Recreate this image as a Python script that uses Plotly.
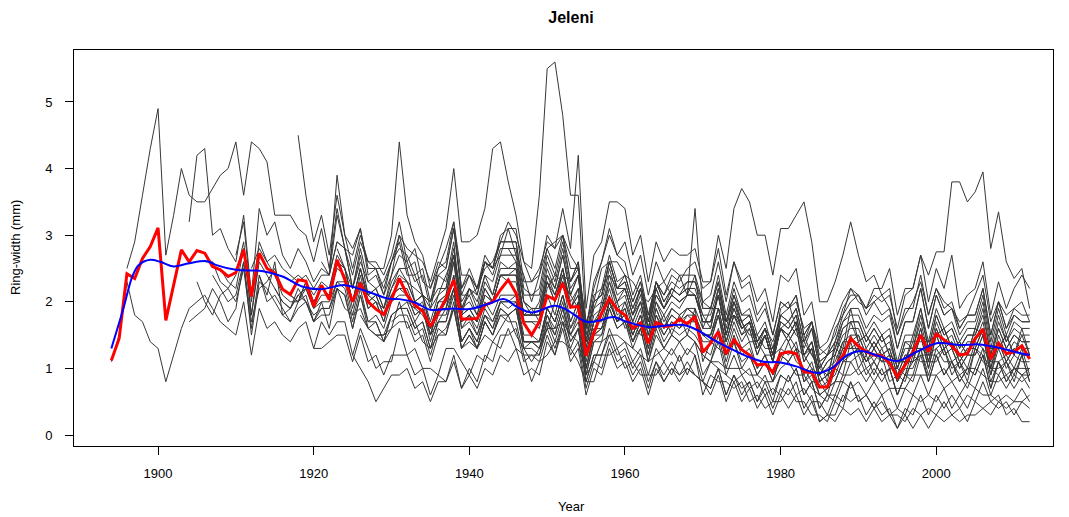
import plotly.graph_objects as go

# ---------------- data ----------------
last_year = 2012

# mean chronology (red), 1894-2012
mean_values = [
    1.12, 1.45, 2.42, 2.35, 2.65, 2.83,
    3.11, 1.72, 2.25, 2.78, 2.60, 2.77, 2.73, 2.53, 2.48, 2.38,
    2.44, 2.78, 2.08, 2.73, 2.50, 2.43, 2.19, 2.11, 2.33, 2.31,
    1.93, 2.25, 2.03, 2.63, 2.33, 2.00, 2.28, 2.00, 1.89, 1.81,
    2.03, 2.35, 2.10, 1.95, 1.86, 1.63, 1.83, 2.05, 2.33, 1.74,
    1.74, 1.75, 1.95, 2.00, 2.18, 2.33, 2.13, 1.68, 1.50, 1.70,
    2.09, 2.03, 2.28, 1.92, 1.93, 1.19, 1.53, 1.83, 2.05, 1.88,
    1.80, 1.60, 1.68, 1.38, 1.69, 1.63, 1.64, 1.74, 1.67, 1.78,
    1.24, 1.38, 1.55, 1.22, 1.43, 1.28, 1.20, 1.05, 1.07, 0.94,
    1.22, 1.25, 1.22, 0.95, 0.94, 0.72, 0.72, 1.03, 1.19, 1.45,
    1.33, 1.25, 1.20, 1.19, 1.08, 0.87, 1.05, 1.25, 1.50, 1.25,
    1.52, 1.43, 1.34, 1.20, 1.22, 1.45, 1.59, 1.14, 1.38, 1.22,
    1.25, 1.34, 1.14,
]

# smoothing spline (blue), read at points along the curve
spline_years = [1894, 1895.5, 1896.7, 1897.5, 1899, 1900.3, 1902, 1904, 1906.3, 1907.5,
                1910, 1913.5, 1916, 1918.5, 1921, 1924, 1927, 1929.5, 1931, 1933,
                1935, 1938, 1940, 1942.5, 1944.5, 1946, 1948, 1951, 1952.5, 1955,
                1956.4, 1958.5, 1960, 1963, 1965, 1967.5, 1969.2, 1971.4, 1973.5, 1975.7,
                1977.8, 1980, 1982, 1984.8, 1986.5, 1988.6, 1990.4, 1992.5, 1995, 1997.5,
                2000.2, 2003, 2005.5, 2008, 2010.7, 2012]
spline_values = [1.30, 1.88, 2.38, 2.55, 2.63, 2.60, 2.53, 2.58, 2.61, 2.55,
                 2.48, 2.46, 2.38, 2.23, 2.19, 2.25, 2.15, 2.05, 2.04, 1.99,
                 1.88, 1.90, 1.89, 1.97, 2.04, 1.93, 1.84, 1.94, 1.88, 1.70,
                 1.71, 1.77, 1.71, 1.62, 1.64, 1.65, 1.58, 1.43, 1.30, 1.18,
                 1.10, 1.09, 1.03, 0.93, 1.00, 1.20, 1.26, 1.19, 1.11, 1.25,
                 1.38, 1.35, 1.36, 1.31, 1.23, 1.20]

# individual tree series (black), each ending in 2012
tree_a = [2.5, 2.9, 3.6, 4.3,
          4.9, 2.7, 3.3, 4.0, 3.6, 3.5, 3.5, 3.7, 3.9, 4.0,
          4.4, 3.6, 4.4, 4.3, 4.1, 3.3, 3.3, 3.3, 3.1, 3.0,
          2.6, 3.1, 2.5, 3.4, 2.8, 2.7, 3.1, 2.4, 2.5, 2.1,
          2.4, 3.0, 2.5, 2.6, 2.1, 2.0, 2.4, 2.3, 2.9, 1.8,
          2.2, 1.9, 2.4, 2.1, 2.6, 2.5, 2.6, 1.8, 1.9, 1.7,
          2.2, 2.4, 2.3, 2.1, 1.9, 1.4, 1.5, 2.0, 1.9, 2.0,
          1.6, 1.7, 1.5, 1.5, 1.6, 1.8, 1.5, 1.8, 1.5, 1.9,
          1.1, 1.4, 1.3, 1.2, 1.4, 1.0, 1.2, 0.9, 1.1, 0.8,
          1.2, 1.1, 1.3, 0.8, 0.9, 0.6, 0.7, 0.8, 1.1, 1.2,
          1.3, 1.0, 1.1, 0.9, 1.0, 0.6, 0.9, 1.1, 1.2, 1.2,
          1.2, 1.3, 1.0, 1.1, 0.9, 1.3, 1.2, 1.0, 1.0, 1.1,
          0.9, 1.2, 0.8]
tree_b = [1.1, 1.5, 2.3, 1.8, 1.7, 1.4,
          1.3, 0.8, 1.2, 1.6, 1.9, 2.0, 2.1, 1.9, 1.7, 1.6,
          1.5, 2.0, 1.2, 1.9, 1.6, 1.7, 1.5, 1.4, 1.6, 1.7,
          1.3, 1.7, 1.5, 1.7, 1.7, 1.2, 1.6, 1.3, 1.0, 1.1,
          1.1, 1.6, 1.2, 1.3, 1.0, 1.0, 0.9, 1.3, 1.3, 1.1,
          0.9, 1.2, 1.1, 1.4, 1.3, 1.6, 1.3, 1.2, 0.8, 1.1,
          1.2, 1.4, 1.4, 1.3, 1.1, 0.8, 0.8, 1.2, 1.2, 1.3,
          1.0, 1.1, 0.9, 0.9, 0.9, 1.1, 0.9, 1.2, 0.9, 1.2,
          0.6, 0.9, 0.8, 0.8, 0.7, 0.8, 0.5, 0.6, 0.4, 0.5,
          0.5, 0.7, 0.5, 0.5, 0.3, 0.3, 0.2, 0.5, 0.4, 0.8,
          0.5, 0.6, 0.4, 0.6, 0.3, 0.4, 0.3, 0.6, 0.5, 0.6,
          0.5, 0.7, 0.4, 0.6, 0.4, 0.7, 0.6, 0.6, 0.5, 0.6,
          0.5, 0.7, 0.5]
tree_c = [3.2, 4.2, 4.3, 3.0, 3.1, 2.8,
          2.6, 3.3, 2.1, 3.4, 3.0, 3.2, 2.7, 2.5, 2.8, 2.6,
          2.3, 2.5, 2.4, 2.9, 2.8, 2.2, 2.7, 2.1, 2.2, 1.9,
          2.3, 2.5, 2.5, 2.0, 2.1, 1.6, 2.0, 2.0, 2.6, 1.7,
          1.8, 1.5, 1.9, 1.7, 2.0, 2.0, 2.0, 1.4, 1.4, 1.3,
          1.7, 1.4, 1.8, 1.4, 1.6, 0.8, 1.2, 1.2, 1.6, 1.3,
          1.4, 1.1, 1.3, 0.9, 1.3, 1.1, 1.3, 1.1, 1.3, 1.2,
          0.8, 1.1, 1.0, 0.9, 0.8, 0.9, 0.7, 0.8, 0.6, 0.7,
          0.6, 0.9, 0.6, 0.7, 0.5, 0.5, 0.3, 0.6, 0.5, 0.8,
          0.5, 0.6, 0.4, 0.5, 0.3, 0.3, 0.2, 0.4, 0.3, 0.4,
          0.3, 0.5, 0.3, 0.4, 0.2, 0.5, 0.4, 0.5, 0.4, 0.5,
          0.3, 0.5, 0.4]
tree_d = [1.7, 1.8, 1.9, 2.2, 2.0, 1.7,
          1.9, 2.6, 1.5, 2.3, 2.2, 2.0, 1.8, 1.7, 2.0, 2.1,
          1.7, 1.8, 1.8, 2.2, 2.1, 1.6, 2.1, 1.7, 1.7, 1.4,
          1.8, 1.9, 1.9, 1.6, 1.7, 1.3, 1.7, 1.7, 2.2, 1.4,
          1.6, 1.4, 1.8, 1.7, 2.0, 2.0, 2.1, 1.4, 1.4, 1.4,
          1.9, 1.7, 2.1, 1.6, 1.9, 1.0, 1.5, 1.6, 2.0, 1.7,
          1.8, 1.5, 1.8, 1.3, 1.8, 1.6, 1.8, 1.7, 1.9, 1.8,
          1.5, 1.5, 1.9, 1.4, 1.8, 1.5, 1.6, 1.2, 1.5, 1.1,
          1.6, 1.5, 1.7, 1.2, 1.4, 0.9, 1.1, 1.2, 1.6, 1.7,
          1.7, 1.4, 1.6, 1.4, 1.5, 1.0, 1.4, 1.4, 1.9, 1.3,
          1.8, 1.5, 1.6, 1.3, 1.5, 1.5, 1.9, 1.2, 1.7, 1.4,
          1.6, 1.5, 1.5]
tree_e = [2.3, 2.0, 1.8, 2.1, 2.2,
          2.0, 2.5, 1.6, 2.4, 2.0, 2.1, 1.9, 1.7, 1.9, 2.0,
          1.7, 1.9, 1.9, 2.3, 2.3, 1.8, 2.3, 1.9, 2.0, 1.7,
          2.1, 2.3, 2.3, 2.0, 2.1, 1.7, 2.1, 2.2, 2.8, 2.0,
          2.2, 2.0, 2.4, 2.3, 2.7, 2.7, 2.7, 2.0, 1.9, 1.9,
          2.5, 2.2, 2.7, 2.1, 2.4, 1.3, 1.9, 2.0, 2.5, 2.1,
          2.2, 1.8, 2.1, 1.6, 2.1, 1.9, 2.1, 2.0, 2.1, 2.1,
          1.7, 1.7, 2.1, 1.5, 1.9, 1.6, 1.7, 1.3, 1.5, 1.1,
          1.6, 1.4, 1.6, 1.1, 1.3, 0.8, 0.9, 1.0, 1.3, 1.3,
          1.4, 1.1, 1.3, 1.1, 1.2, 0.8, 1.1, 1.1, 1.5, 1.0,
          1.5, 1.2, 1.3, 1.0, 1.2, 1.2, 1.5, 0.9, 1.3, 1.0,
          1.2, 1.1, 1.1]
tree_f = [2.6, 2.6, 2.3, 2.2,
          2.4, 2.9, 1.8, 2.7, 2.5, 2.4, 2.1, 2.0, 2.0, 2.3,
          2.0, 2.2, 2.1, 2.5, 2.4, 1.9, 2.4, 1.9, 2.0, 1.7,
          2.1, 2.2, 2.1, 1.8, 1.9, 1.4, 1.8, 1.8, 2.2, 1.4,
          1.6, 1.3, 1.7, 1.5, 1.8, 1.7, 1.7, 1.2, 1.2, 1.1,
          1.5, 1.2, 1.6, 1.1, 1.3, 0.6, 1.0, 0.9, 1.3, 1.0,
          1.1, 0.8, 1.0, 0.6, 1.0, 0.8, 1.0, 0.8, 1.0, 0.9,
          0.8, 0.7, 1.0, 0.6, 0.9, 0.7, 0.8, 0.5, 0.8, 0.5,
          0.9, 0.8, 1.0, 0.6, 0.8, 0.4, 0.6, 0.6, 0.9, 0.9,
          1.0, 0.8, 1.0, 0.8, 1.0, 0.6, 0.9, 0.8, 1.2, 0.8,
          1.2, 0.9, 1.1, 0.8, 1.0, 0.9, 1.2, 0.7, 1.1, 0.8,
          1.0, 0.9, 1.0]
tree_g = [2.4, 2.2, 2.0,
          2.1, 2.6, 1.7, 2.2, 2.3, 2.5, 2.2, 2.1, 2.0, 2.2,
          1.9, 2.1, 2.1, 2.6, 2.5, 2.0, 2.5, 2.1, 2.2, 1.9,
          2.4, 2.7, 2.6, 2.3, 2.4, 1.9, 2.4, 2.5, 3.1, 2.2,
          2.4, 2.2, 2.7, 2.5, 2.9, 2.9, 2.9, 2.1, 2.1, 2.1,
          2.7, 2.4, 2.9, 2.3, 2.5, 1.4, 2.0, 2.1, 2.6, 2.2,
          2.3, 1.9, 2.2, 1.7, 2.2, 1.9, 2.1, 2.0, 2.1, 2.1,
          1.8, 1.6, 2.2, 1.7, 2.0, 1.7, 1.4, 1.4, 1.2, 1.2,
          1.3, 1.5, 1.3, 1.2, 1.0, 0.9, 0.7, 1.2, 1.1, 1.5,
          1.2, 1.3, 1.1, 1.3, 1.0, 1.0, 0.9, 1.3, 1.3, 1.2,
          1.3, 1.4, 1.1, 1.2, 1.0, 1.4, 1.3, 1.1, 1.1, 1.2,
          1.0, 1.3, 0.9]
tree_h = [2.5, 2.3,
          2.2, 2.8, 1.8, 2.6, 2.4, 2.2, 2.0, 1.9, 2.1, 2.0,
          1.8, 1.9, 1.9, 2.2, 2.1, 1.6, 2.1, 1.6, 1.7, 1.4,
          1.8, 1.9, 1.9, 1.6, 1.7, 1.3, 1.7, 1.7, 2.1, 1.4,
          1.6, 1.4, 1.8, 1.6, 2.0, 1.9, 2.0, 1.4, 1.4, 1.4,
          1.9, 1.7, 2.1, 1.6, 1.8, 1.0, 1.5, 1.6, 2.0, 1.7,
          1.9, 1.5, 1.8, 1.4, 1.9, 1.6, 1.9, 1.8, 1.9, 1.9,
          1.6, 1.6, 2.1, 1.5, 2.0, 1.7, 1.8, 1.4, 1.6, 1.2,
          1.9, 2.0, 1.6, 1.5, 1.2, 1.1, 0.8, 1.4, 1.3, 1.9,
          1.4, 1.5, 1.3, 1.5, 1.2, 1.1, 1.1, 1.5, 1.5, 1.4,
          1.5, 1.6, 1.3, 1.4, 1.2, 1.6, 1.5, 1.3, 1.3, 1.5,
          1.2, 1.6, 1.2]
tree_i = [2.7, 3.2, 2.0, 2.9, 2.6, 2.4, 2.2, 2.1, 2.0, 2.3,
          2.0, 2.2, 2.2, 2.7, 2.5, 2.0, 2.5, 2.0, 2.1, 1.8,
          2.2, 2.4, 2.3, 2.0, 2.1, 1.6, 2.0, 2.1, 2.6, 1.8,
          1.9, 1.7, 2.2, 2.0, 2.4, 2.4, 2.4, 1.7, 1.7, 1.7,
          2.3, 2.0, 2.5, 1.9, 2.2, 1.2, 1.7, 1.9, 2.3, 1.9,
          2.0, 1.6, 1.9, 1.4, 1.9, 1.6, 1.8, 1.7, 1.8, 1.8,
          1.5, 1.5, 1.8, 1.4, 1.8, 1.6, 1.7, 1.4, 1.6, 1.4,
          1.8, 1.9, 2.0, 1.6, 1.7, 1.3, 1.2, 1.6, 1.8, 2.2,
          2.0, 1.9, 2.0, 2.1, 1.9, 1.5, 1.8, 2.0, 2.3, 1.8,
          2.2, 2.0, 1.9, 1.7, 1.8, 2.1, 2.4, 1.7, 2.0, 1.8,
          1.9, 2.0, 1.7]
tree_j = [2.5, 2.8, 2.6, 2.7, 2.5, 2.4, 2.3, 2.4,
          2.2, 2.4, 2.4, 2.9, 2.8, 2.2, 2.8, 2.3, 2.4, 2.1,
          2.6, 2.8, 2.7, 2.4, 2.5, 2.0, 2.5, 2.6, 3.2, 2.2,
          2.5, 2.2, 2.6, 2.5, 2.9, 2.9, 2.9, 2.2, 2.1, 2.2,
          2.8, 2.5, 3.0, 2.3, 2.6, 1.5, 2.1, 2.2, 2.7, 2.3,
          2.4, 2.0, 2.3, 1.7, 2.3, 2.0, 2.2, 2.1, 2.2, 2.2,
          1.8, 1.8, 2.2, 1.6, 2.1, 1.7, 1.8, 1.4, 1.6, 1.2,
          1.7, 1.6, 1.8, 1.2, 1.4, 0.9, 1.1, 1.2, 1.5, 1.6,
          1.6, 1.3, 1.5, 1.3, 1.4, 1.0, 1.3, 1.3, 1.7, 1.2,
          1.7, 1.4, 1.5, 1.2, 1.4, 1.4, 1.7, 1.1, 1.6, 1.3,
          1.5, 1.4, 1.4]
tree_k = [2.2, 2.0, 1.9, 2.1, 2.2,
          1.9, 2.0, 2.0, 2.3, 2.2, 1.7, 2.2, 1.7, 1.8, 1.6,
          2.0, 2.1, 2.1, 1.8, 1.9, 1.5, 1.9, 1.9, 2.4, 1.6,
          1.8, 1.7, 2.1, 2.0, 2.4, 2.4, 2.5, 1.8, 1.8, 1.8,
          2.4, 2.2, 2.7, 2.1, 2.4, 1.4, 2.0, 2.1, 2.6, 2.2,
          2.4, 2.0, 2.3, 1.8, 2.3, 2.1, 2.3, 2.2, 2.3, 2.3,
          1.9, 1.9, 2.4, 1.8, 2.3, 2.0, 2.1, 1.7, 1.9, 1.5,
          2.0, 1.9, 2.1, 1.5, 1.7, 1.1, 1.2, 1.4, 1.7, 1.8,
          1.8, 1.5, 1.7, 1.5, 1.6, 1.1, 1.5, 1.5, 1.9, 1.4,
          1.9, 1.6, 1.7, 1.4, 1.6, 1.6, 2.0, 1.3, 1.8, 1.4,
          1.7, 1.6, 1.6]
tree_l = [2.3, 2.4, 2.3,
          2.1, 2.3, 2.2, 2.6, 2.5, 2.0, 2.5, 2.0, 2.1, 1.8,
          2.1, 2.2, 2.2, 1.9, 2.0, 1.5, 1.9, 1.9, 2.4, 1.6,
          1.7, 1.5, 1.8, 1.6, 1.9, 1.8, 1.9, 1.3, 1.3, 1.2,
          1.6, 1.3, 1.7, 1.2, 1.4, 0.7, 1.1, 1.0, 1.4, 1.1,
          1.2, 0.9, 1.1, 0.7, 1.1, 0.8, 1.0, 0.9, 1.0, 0.9,
          0.8, 0.6, 0.9, 0.5, 0.8, 0.5, 0.7, 0.4, 0.6, 0.3,
          0.6, 0.4, 0.6, 0.3, 0.5, 0.2, 0.3, 0.2, 0.4, 0.3,
          0.4, 0.2, 0.4, 0.2, 0.3, 0.1, 0.3, 0.1, 0.3, 0.1,
          0.3, 0.2, 0.3, 0.2, 0.3, 0.3, 0.4, 0.3, 0.5, 0.4,
          0.5, 0.5, 0.6]
tree_m = [4.5, 3.6,
          2.9, 3.3, 2.7, 3.6, 3.0, 2.8, 3.1, 2.5, 2.5, 2.2,
          2.6, 2.9, 2.4, 2.4, 2.1, 2.0, 2.2, 2.2, 2.7, 1.9,
          2.1, 1.8, 2.2, 2.0, 2.4, 2.3, 2.3, 1.7, 1.7, 1.6,
          2.1, 1.8, 2.3, 1.7, 2.0, 1.1, 1.6, 1.6, 2.0, 1.7,
          1.8, 1.4, 1.7, 1.2, 1.7, 1.4, 1.6, 1.5, 1.6, 1.5,
          1.3, 1.2, 1.6, 1.1, 1.5, 1.2, 1.3, 1.0, 1.2, 0.9,
          1.3, 1.2, 1.4, 0.9, 1.1, 0.7, 0.8, 0.9, 1.2, 1.2,
          1.3, 1.1, 1.3, 1.1, 1.2, 0.8, 1.1, 1.1, 1.5, 1.0,
          1.5, 1.2, 1.3, 1.0, 1.2, 1.2, 1.5, 0.9, 1.4, 1.1,
          1.3, 1.2, 1.2]
tree_n = [1.3, 1.3, 1.4, 1.5, 1.5, 1.1, 1.5, 1.1, 1.2, 0.9,
          1.2, 1.2, 1.2, 0.9, 1.0, 0.6, 0.9, 0.8, 1.1, 0.7,
          0.9, 0.7, 1.0, 0.9, 1.2, 1.1, 1.3, 0.9, 1.0, 0.9,
          1.4, 1.2, 1.7, 1.3, 1.6, 0.9, 1.4, 1.5, 2.0, 1.7,
          2.0, 1.7, 2.0, 1.6, 2.1, 1.9, 2.2, 2.1, 2.3, 2.3,
          2.0, 2.1, 2.6, 2.0, 2.6, 2.3, 2.4, 2.0, 2.2, 1.7,
          2.4, 2.3, 2.5, 1.8, 2.0, 1.3, 1.4, 1.7, 2.0, 2.2,
          2.1, 1.8, 2.0, 1.8, 1.9, 1.3, 1.7, 1.7, 2.2, 1.6,
          2.1, 1.8, 1.9, 1.5, 1.7, 1.7, 2.1, 1.4, 1.9, 1.5,
          1.8, 1.7, 1.7]
tree_o = [2.6, 2.4, 3.9, 3.0, 2.5, 3.0, 2.6, 2.5, 2.5,
          3.0, 4.4, 3.3, 2.9, 2.7, 2.2, 2.5, 2.8, 3.2, 2.4,
          2.4, 2.1, 2.6, 2.4, 2.8, 2.8, 2.8, 2.0, 1.9, 1.9,
          2.4, 2.1, 2.5, 1.9, 2.1, 1.2, 1.7, 1.7, 2.1, 1.7,
          1.8, 1.4, 1.6, 1.1, 1.5, 1.3, 1.5, 1.4, 1.5, 1.4,
          1.2, 1.1, 1.4, 0.9, 1.2, 0.9, 1.0, 0.7, 0.9, 0.6,
          0.9, 0.8, 1.0, 0.6, 0.8, 0.4, 0.6, 0.5, 0.8, 0.7,
          0.8, 0.6, 0.8, 0.6, 0.7, 0.4, 0.7, 0.6, 0.9, 0.6,
          0.9, 0.7, 0.8, 0.6, 0.8, 0.7, 1.0, 0.6, 0.9, 0.7,
          0.9, 0.8, 0.9]
tree_p = [2.8, 2.5, 2.2, 2.6, 2.3, 2.2, 2.3,
          2.6, 3.0, 2.8, 2.7, 2.6, 2.3, 2.7, 3.1, 4.0, 2.9,
          2.9, 3.0, 3.4, 4.3, 4.4, 3.8, 3.3, 2.6, 2.3, 2.5,
          2.9, 2.8, 3.0, 2.5, 2.5, 1.6, 1.9, 2.2, 2.4, 2.2,
          2.2, 1.8, 2.0, 1.5, 2.0, 1.7, 1.9, 1.8, 1.9, 1.8,
          1.5, 1.4, 1.8, 1.2, 1.6, 1.3, 1.4, 1.0, 1.2, 0.9,
          1.1, 1.4, 1.1, 1.0, 0.8, 0.8, 0.6, 1.0, 0.9, 1.4,
          1.0, 1.2, 0.9, 1.2, 0.8, 0.9, 0.8, 1.2, 1.1, 1.1,
          1.1, 1.3, 0.9, 1.1, 0.8, 1.3, 1.1, 1.0, 0.9, 1.1,
          0.8, 1.2, 0.8]
tree_q = [2.0, 2.3, 2.1, 2.0, 1.9,
          2.2, 2.5, 2.3, 2.2, 2.1, 1.9, 2.1, 2.4, 2.7, 2.1,
          2.1, 2.2, 2.5, 2.6, 2.9, 3.2, 3.0, 2.6, 2.5, 3.6,
          5.5, 5.6, 4.8, 3.6, 3.6, 1.6, 2.2, 2.6, 3.0, 2.7,
          2.6, 2.1, 2.4, 1.8, 2.3, 2.0, 2.2, 2.1, 2.2, 2.1,
          1.7, 1.7, 2.1, 1.5, 1.9, 1.6, 1.7, 1.3, 1.5, 1.1,
          1.6, 1.5, 1.7, 1.2, 1.4, 0.9, 1.0, 1.1, 1.4, 1.5,
          1.5, 1.2, 1.4, 1.2, 1.3, 0.9, 1.2, 1.2, 1.6, 1.1,
          1.6, 1.3, 1.4, 1.1, 1.3, 1.3, 1.6, 1.0, 1.5, 1.2,
          1.4, 1.3, 1.3]
tree_r = [1.8, 1.6, 1.5, 1.5,
          1.8, 1.9, 2.0, 1.7, 1.9, 1.5, 2.0, 2.1, 2.7, 1.9,
          2.2, 2.1, 2.6, 2.5, 3.0, 3.1, 3.1, 2.3, 2.3, 2.4,
          3.0, 2.8, 3.4, 2.8, 4.2, 1.9, 2.7, 2.9, 3.5, 3.5,
          3.4, 2.7, 3.0, 2.3, 2.9, 2.6, 2.8, 2.7, 2.7, 2.8,
          2.3, 2.3, 2.8, 2.1, 2.6, 2.2, 2.3, 1.8, 2.0, 1.5,
          2.0, 1.9, 2.1, 1.5, 1.7, 1.1, 1.2, 1.3, 1.6, 1.7,
          1.7, 1.4, 1.6, 1.4, 1.5, 1.0, 1.4, 1.3, 1.8, 1.3,
          1.8, 1.5, 1.6, 1.3, 1.5, 1.5, 1.8, 1.2, 1.6, 1.3,
          1.5, 1.4, 1.4]
tree_s = [1.5, 1.4,
          1.6, 1.7, 1.7, 1.4, 1.5, 1.1, 1.5, 1.5, 1.9, 1.3,
          1.5, 1.3, 1.7, 1.5, 1.9, 1.8, 1.9, 1.4, 1.4, 1.4,
          1.9, 1.7, 2.1, 1.7, 2.0, 1.2, 1.7, 1.8, 2.3, 2.0,
          2.2, 1.8, 2.2, 1.7, 2.3, 2.1, 2.4, 2.3, 2.5, 2.6,
          2.2, 2.3, 3.0, 2.5, 3.4, 3.7, 3.5, 3.0, 3.0, 2.4,
          3.1, 3.1, 3.3, 3.5, 2.9, 2.0, 2.0, 2.3, 2.7, 3.2,
          2.7, 2.3, 2.4, 2.1, 2.2, 1.5, 1.9, 1.9, 2.4, 1.8,
          2.2, 1.9, 2.0, 1.6, 1.8, 1.8, 2.2, 1.5, 2.0, 1.6,
          1.8, 1.7, 1.7]
tree_t = [1.7, 1.8, 1.8, 1.5, 1.6, 1.2, 1.6, 1.5, 2.0, 1.3,
          1.5, 1.3, 1.7, 1.5, 1.8, 1.8, 1.9, 1.3, 1.4, 1.3,
          1.8, 1.6, 2.0, 1.5, 1.8, 1.0, 1.5, 1.5, 1.9, 1.6,
          1.7, 1.4, 1.7, 1.2, 1.7, 1.5, 1.7, 1.6, 1.8, 1.7,
          1.5, 1.5, 1.9, 1.4, 1.8, 1.5, 1.7, 1.3, 1.6, 1.2,
          1.8, 1.7, 1.9, 1.4, 1.7, 1.2, 1.3, 1.5, 1.9, 2.1,
          2.1, 1.9, 2.1, 2.0, 2.1, 1.6, 2.1, 2.2, 2.7, 2.4,
          2.75, 2.75, 3.8, 3.8, 3.5, 3.65, 3.95, 2.8, 3.35, 2.6,
          2.35, 2.5, 1.9]
tree_u = [2.0, 1.9, 1.8, 1.6, 1.8, 2.0, 2.3, 1.8,
          1.9, 1.7, 2.1, 2.0, 2.4, 2.4, 2.4, 1.8, 1.8, 1.8,
          2.3, 2.1, 2.5, 2.0, 2.2, 1.3, 1.8, 1.9, 2.4, 2.0,
          2.1, 1.7, 2.0, 1.5, 2.0, 1.8, 2.0, 1.9, 2.1, 3.4,
          1.9, 1.9, 2.3, 1.7, 2.2, 1.8, 1.9, 1.5, 1.7, 1.3,
          1.8, 1.7, 1.9, 1.4, 1.6, 1.0, 1.2, 1.3, 1.7, 1.9,
          1.9, 1.6, 1.8, 1.7, 1.8, 1.3, 1.7, 1.7, 2.2, 1.6,
          2.1, 1.8, 1.9, 1.6, 1.8, 1.8, 2.2, 1.5, 2.0, 1.6,
          1.9, 1.8, 1.8]
tree_v = [1.5, 1.7, 1.9, 2.2, 1.7,
          1.8, 1.6, 2.0, 1.8, 2.1, 2.1, 2.1, 1.5, 1.5, 1.4,
          1.8, 1.5, 1.9, 1.4, 1.6, 0.8, 1.2, 1.2, 1.5, 1.2,
          1.3, 1.0, 1.2, 0.8, 1.1, 0.9, 1.1, 0.9, 1.1, 0.9,
          0.8, 0.7, 1.0, 0.6, 0.9, 0.6, 0.8, 0.5, 0.7, 0.4,
          0.7, 0.6, 0.8, 0.4, 0.6, 0.2, 0.3, 0.3, 0.6, 0.5,
          0.6, 0.3, 0.5, 0.3, 0.4, 0.1, 0.4, 0.3, 0.6, 0.3,
          0.6, 0.4, 0.6, 0.4, 0.6, 0.5, 0.8, 0.5, 0.6, 0.3,
          0.4, 0.2, 0.2]
tree_w = [1.9,
          2.0, 1.8, 2.3, 2.1, 2.5, 2.5, 2.5, 1.8, 1.8, 1.8,
          2.3, 2.0, 2.4, 1.9, 2.1, 1.2, 1.7, 1.8, 2.2, 1.8,
          1.9, 1.5, 1.8, 1.3, 1.8, 1.5, 1.7, 1.6, 1.7, 1.7,
          1.4, 1.4, 1.8, 1.3, 1.7, 1.4, 1.6, 1.2, 1.5, 1.1,
          1.7, 1.6, 1.8, 1.3, 1.6, 1.0, 1.2, 1.4, 1.8, 2.0,
          2.1, 1.9, 2.2, 2.2, 2.5, 1.8, 2.2, 2.2, 2.7, 2.0,
          2.5, 2.2, 2.7, 1.9, 2.1, 2.2, 2.6, 1.8, 2.3, 1.9,
          2.2, 2.4, 2.2]
tree_x = [2.8, 2.6, 2.0, 1.8, 2.0,
          2.6, 2.3, 2.8, 2.2, 2.4, 1.4, 2.0, 2.1, 2.6, 2.2,
          2.3, 1.9, 2.2, 1.6, 2.2, 1.9, 2.1, 2.0, 2.1, 2.1,
          1.7, 1.7, 2.1, 1.5, 2.0, 1.6, 1.7, 1.3, 1.5, 1.1,
          1.6, 1.4, 1.6, 1.1, 1.3, 0.8, 0.9, 1.0, 1.4, 1.4,
          1.5, 1.2, 1.4, 1.2, 1.3, 0.9, 1.2, 1.2, 1.6, 1.1,
          1.6, 1.3, 1.4, 1.1, 1.3, 1.3, 1.6, 1.0, 1.4, 1.1,
          1.3, 1.2, 1.2]
tree_y = [1.2, 1.0, 0.8, 0.5, 0.7,
          0.9, 0.9, 1.0, 0.7, 0.8, 0.5, 0.8, 0.8, 1.2, 0.7,
          1.0, 0.8, 1.2, 1.1, 1.5, 1.5, 1.6, 1.1, 1.2, 1.2,
          1.7, 1.5, 1.9, 1.5, 1.7, 0.9, 1.4, 1.4, 1.9, 1.6,
          1.7, 1.3, 1.6, 1.1, 1.6, 1.3, 1.5, 1.4, 1.5, 1.4,
          1.2, 1.1, 1.5, 1.0, 1.4, 1.1, 1.2, 0.9, 1.1, 0.8,
          1.2, 1.1, 1.3, 0.8, 1.0, 0.6, 0.7, 0.8, 1.1, 1.1,
          1.2, 0.9, 1.1, 0.9, 1.0, 0.6, 0.9, 0.9, 1.3, 0.8,
          1.2, 0.9, 1.1, 0.8, 1.0, 0.9, 1.2, 0.7, 1.1, 0.8,
          1.0, 0.9, 0.9]
tree_z1 = [2.4, 2.1, 2.6, 1.8, 1.9, 2.2, 2.0,
           1.7, 2.0, 1.6, 2.2, 1.9, 1.8, 1.9, 1.6, 1.5, 1.5,
           1.6, 2.0, 1.6, 1.7, 1.4, 1.3, 1.5, 1.6, 1.9, 1.3,
           1.4, 1.3, 1.5, 1.4, 1.6, 1.8, 1.5, 1.3, 1.1, 1.3,
           1.6, 1.6, 1.7, 1.5, 1.4, 0.9, 1.1, 1.4, 1.5, 1.5,
           1.4, 1.3, 1.2, 1.1, 1.2, 1.3, 1.2, 1.4, 1.2, 1.4,
           0.9, 1.1, 1.1, 1.0, 1.0, 1.0, 0.9, 0.9, 0.8, 0.8,
           1.0, 1.1, 0.9, 0.9, 0.7, 0.6, 0.5, 0.8, 0.8, 1.1,
           0.9, 1.0, 0.8, 1.0, 0.7, 0.7, 0.7, 0.9, 0.9, 0.9,
           0.9, 1.0, 0.8, 0.9, 0.7, 1.0, 0.9, 0.8, 0.8, 0.9,
           0.7, 0.9, 0.7]
tree_z2 = [2.4, 3.3, 2.8, 2.4, 2.9, 2.6, 2.6, 2.4,
           2.7, 3.2, 2.6, 2.8, 2.3, 2.2, 2.6, 2.5, 3.1, 2.1,
           2.4, 2.2, 2.6, 2.5, 2.7, 3.1, 2.7, 2.4, 2.0, 2.4,
           2.8, 2.9, 3.0, 2.7, 2.5, 1.7, 2.0, 2.5, 2.6, 2.6,
           2.4, 2.3, 2.1, 2.0, 2.2, 2.3, 2.1, 2.4, 2.1, 2.4,
           1.6, 1.9, 1.9, 1.7, 1.8, 1.7, 1.5, 1.5, 1.3, 1.3,
           1.6, 1.7, 1.5, 1.4, 1.2, 1.0, 0.9, 1.3, 1.2, 1.7,
           1.4, 1.5, 1.3, 1.5, 1.2, 1.1, 1.1, 1.4, 1.4, 1.4,
           1.5, 1.6, 1.3, 1.4, 1.2, 1.6, 1.5, 1.3, 1.3, 1.5,
           1.2, 1.5, 1.2]
tree_z3 = [1.6, 2.0, 2.4, 2.3, 2.6, 1.6, 2.3, 2.6, 3.1, 2.7,
           2.9, 2.4, 2.7, 2.1, 2.6, 2.3, 2.5, 2.4, 2.4, 2.4,
           2.0, 1.9, 2.3, 1.7, 2.1, 1.8, 1.8, 1.4, 1.6, 1.2,
           1.6, 1.5, 1.7, 1.2, 1.3, 0.8, 0.9, 1.0, 1.3, 1.3,
           1.3, 1.1, 1.2, 1.1, 1.1, 0.8, 1.0, 1.0, 1.3, 0.9,
           1.3, 1.1, 1.1, 0.9, 1.0, 1.0, 1.3, 0.8, 1.1, 0.9,
           1.0, 1.0, 1.0]

tree_series = [tree_a, tree_b, tree_c, tree_d, tree_e, tree_f, tree_g, tree_h,
               tree_i, tree_j, tree_k, tree_l, tree_m, tree_n, tree_o, tree_p,
               tree_q, tree_r, tree_s, tree_t, tree_u, tree_v, tree_w, tree_x,
               tree_y, tree_z1, tree_z2, tree_z3]

x_ticks = [1900, 1920, 1940, 1960, 1980, 2000]
y_ticks = [0, 1, 2, 3, 4, 5]

# ---------------- figure ----------------
fig = go.Figure()

for vals in tree_series:
    yrs = list(range(last_year + 1 - len(vals), last_year + 1))
    fig.add_trace(go.Scatter(x=yrs, y=vals, mode="lines",
                             line=dict(color="rgb(55,55,55)", width=1),
                             hoverinfo="skip"))

mean_years = list(range(last_year + 1 - len(mean_values), last_year + 1))
fig.add_trace(go.Scatter(x=mean_years, y=mean_values, mode="lines",
                         line=dict(color="#ff0000", width=3)))
fig.add_trace(go.Scatter(x=spline_years, y=spline_values, mode="lines",
                         line=dict(color="#0000ff", width=2, shape="spline", smoothing=1.0)))

font_family = "Liberation Sans, Arial, Helvetica, sans-serif"

# page body has an 8px default margin, so the figure is sized to fit inside it
W, H, OFF = 1061, 509, 8

fig.update_layout(
    width=W, height=H,
    margin=dict(l=74 - OFF, r=16, t=50 - OFF, b=71),
    paper_bgcolor="white", plot_bgcolor="white",
    showlegend=False,
    font=dict(family=font_family, size=13, color="black"),
    title=dict(text="<b>Jeleni</b>", x=(571 - OFF) / W, xref="container", xanchor="center",
               y=1 - (17 - OFF) / H, yref="container", yanchor="middle",
               font=dict(family=font_family, size=16, color="black")),
    xaxis=dict(range=[1889.2, 2015.0], tickvals=x_ticks, ticks="outside", ticklen=8,
               tickwidth=1, tickcolor="black", showgrid=False, zeroline=False,
               showline=True, linecolor="black", linewidth=1, mirror=True,
               ticklabelstandoff=7, tickfont=dict(size=13)),
    yaxis=dict(range=[-0.165, 5.78], tickvals=y_ticks, ticks="outside", ticklen=8,
               tickwidth=1, tickcolor="black", showgrid=False, zeroline=False,
               showline=True, linecolor="black", linewidth=1, mirror=True,
               ticklabelstandoff=10, tickfont=dict(size=13)),
    annotations=[
        dict(text="Year", xref="paper", yref="paper", x=(571 - 74) / 979,
             y=-(506 - 446) / 396, xanchor="center", yanchor="middle",
             showarrow=False, font=dict(size=13)),
        dict(text="Ring-width (mm)", xref="paper", yref="paper", x=(15 - 74) / 979,
             y=0.5, xanchor="center", yanchor="middle", textangle=-90,
             showarrow=False, font=dict(size=13)),
    ],
)

fig.write_html("out.html")
